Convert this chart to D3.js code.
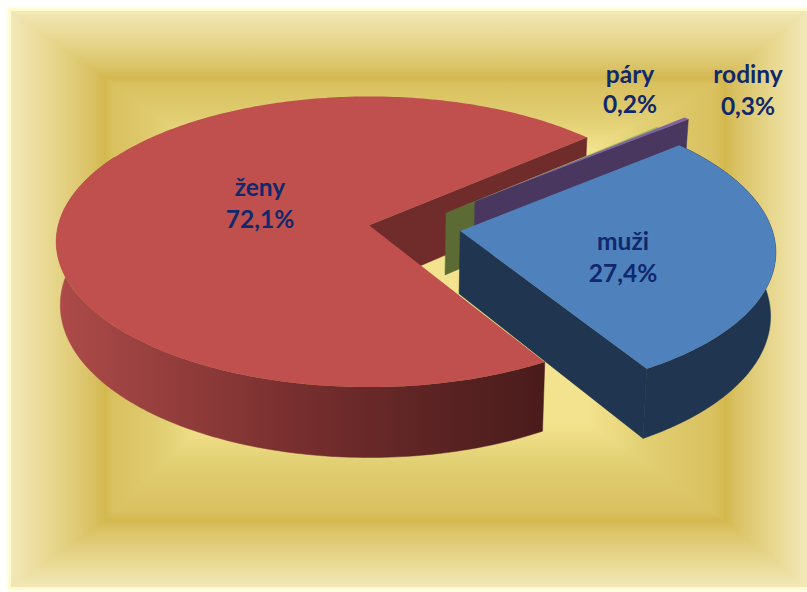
<!DOCTYPE html>
<html>
<head>
<meta charset="utf-8">
<title>pie</title>
<script src="https://cdnjs.cloudflare.com/ajax/libs/d3/7.8.5/d3.min.js"></script>
<style>
  html, body { margin: 0; padding: 0; background: #fff; }
  svg { display: block; }
  text { font-family: Lato, sans-serif; font-weight: 700; font-size: 24.5px; fill: #10286c; text-anchor: middle; }
</style>
</head>
<body>
<div id="chart"></div>
<script>
// data
const categories = ["ženy", "páry", "rodiny", "muži"];
const shares = [72.1, 0.2, 0.3, 27.4];

const topColors = ["#c0504d", "#9bbb59", "#8064a2", "#4f81bd"];
const wallColors = ["#6f2c2a", "#5b6b33", "#4a3760", "#1f3550"];

// how far each slice was pulled out of the pie, in pie radii
const explode = [[-0.003, -0.005], [0.247, -0.091], [0.3445, -0.178], [0.289, 0.034]];
const labelPos = [[260, 196, 228], [630, 83, 113], [748, 83, 115], [623, 250, 282]];

const width = 807, height = 592;
const center = {x: 370, y: 226};
const radiusX = 311, radiusY = 143.6, persp = 0.1134;
const depth = 62.5, bottomScale = 0.987;
const firstAngle = 149.3 * Math.PI / 180;

const svg = d3.select("#chart").append("svg")
  .attr("width", width)
  .attr("height", height);
const defs = svg.append("defs");

const format = d3.formatLocale({decimal: ",", thousands: " ", grouping: [3], currency: ["", ""]}).format(".1f");

// ---- background, a rectangular gradient built from trapezoids ----
const outer = {x0: 11, y0: 11, x1: 807, y1: 587};
const inner = {x0: 105, y0: 78, x1: 725, y1: 520};
const plateau = {x0: 205, y0: 150, x1: 587, y1: 423};
const outerStops = [[0, "#f2e8b8"], [0.3, "#ebdc9a"], [0.6, "#e2cf7e"], [0.85, "#dac265"], [1, "#d4b84e"]];
const innerStops = [[0, "#d4b84e"], [0.08, "#dac160"], [0.3, "#dcc667"], [0.6, "#e2d074"], [1, "#f4e38e"]];

defs.append("filter").attr("id", "glow")
  .append("feGaussianBlur").attr("stdDeviation", 1.5);
svg.append("rect")
  .attr("x", outer.x0 - 1).attr("y", outer.y0 - 1)
  .attr("width", outer.x1 - outer.x0 + 2).attr("height", outer.y1 - outer.y0 + 2)
  .attr("fill", "none").attr("stroke", "#fffbc0").attr("stroke-width", 4)
  .attr("filter", "url(#glow)");

function gradientBand(id, a, b, stops) {
  const g = defs.append("linearGradient").attr("id", id)
    .attr("gradientUnits", "userSpaceOnUse")
    .attr("x1", a[0]).attr("y1", a[1]).attr("x2", b[0]).attr("y2", b[1]);
  stops.forEach(s => g.append("stop").attr("offset", s[0]).attr("stop-color", s[1]));
  return "url(#" + id + ")";
}

function ring(name, o, i, stops) {
  const sides = [
    [[o.x0, o.y0], [o.x1, o.y0], [i.x1, i.y0], [i.x0, i.y0], [0, o.y0], [0, i.y0]],
    [[o.x0, o.y1], [o.x1, o.y1], [i.x1, i.y1], [i.x0, i.y1], [0, o.y1], [0, i.y1]],
    [[o.x0, o.y0], [o.x0, o.y1], [i.x0, i.y1], [i.x0, i.y0], [o.x0, 0], [i.x0, 0]],
    [[o.x1, o.y0], [o.x1, o.y1], [i.x1, i.y1], [i.x1, i.y0], [o.x1, 0], [i.x1, 0]]
  ];
  sides.forEach((s, n) => {
    svg.append("polygon")
      .attr("points", s.slice(0, 4).join(" "))
      .attr("shape-rendering", "crispEdges")
      .attr("fill", gradientBand(name + n, s[4], s[5], stops));
  });
}
ring("outerBand", outer, inner, outerStops);
ring("innerBand", inner, plateau, innerStops);
svg.append("rect")
  .attr("x", plateau.x0).attr("y", plateau.y0)
  .attr("width", plateau.x1 - plateau.x0).attr("height", plateau.y1 - plateau.y0)
  .attr("fill", "#f4e38e");

// ---- pie ----
const pie = d3.pie().sort(null)
  .startAngle(firstAngle)
  .endAngle(firstAngle + 2 * Math.PI);
const slices = pie(shares).map((d, i) => ({
  start: d.startAngle, end: d.endAngle, i: i,
  off: explode[i]
}));

// angle on the pie to a point on screen, with a little perspective
function topPoint(ang, r, off) {
  const X = r * Math.sin(ang) + off[0];
  const Y = -r * Math.cos(ang) + off[1];
  const w = 1 - persp * Y;
  return {x: center.x + radiusX * X / w, y: center.y + radiusY * Y / w, w: w};
}
function lowPoint(p) {
  return {x: center.x + (p.x - center.x) * bottomScale, y: p.y + depth / p.w};
}
const line = d3.line().x(d => d.x).y(d => d.y);

function arcPoints(a0, a1, off) {
  const n = Math.max(2, Math.ceil(Math.abs(a1 - a0) * 180 / Math.PI));
  return d3.range(n + 1).map(k => topPoint(a0 + (a1 - a0) * k / n, 1, off));
}

function cutWall(ang, off, fill) {
  const a = topPoint(0, 0, off), b = topPoint(ang, 1, off);
  svg.append("path")
    .attr("d", line([a, b, lowPoint(b), lowPoint(a)]) + "Z")
    .attr("fill", fill)
    .attr("stroke", fill)
    .attr("stroke-width", 0.5);
}
function roundSide(a0, a1, off, fill) {
  const top = arcPoints(a0, a1, off);
  svg.append("path")
    .attr("d", line(top.concat(top.map(lowPoint).reverse())) + "Z")
    .attr("fill", fill)
    .attr("stroke", fill)
    .attr("stroke-width", 0.5);
}
function topFace(s) {
  svg.append("path")
    .attr("d", line([topPoint(0, 0, s.off)].concat(arcPoints(s.start, s.end, s.off))) + "Z")
    .attr("fill", topColors[s.i]);
}

const red = slices[0], green = slices[1], purple = slices[2], blue = slices[3];

const redSide = gradientBand("redSide", [57, 0], [543, 0],
  [[0, "#ad4b49"], [0.28, "#8f3b3a"], [0.5, "#772e2e"], [0.75, "#5e2424"], [1, "#4a1b1b"]]);

// back to front
cutWall(red.end, red.off, wallColors[0]);
cutWall(green.end, green.off, wallColors[1]);
cutWall(purple.end, purple.off, wallColors[2]);
roundSide(red.start, 300 * Math.PI / 180, red.off, redSide);
topFace(red);
topFace(green);
topFace(purple);
roundSide(blue.start, blue.end, blue.off, wallColors[3]);
cutWall(blue.end, blue.off, wallColors[3]);
topFace(blue);

// ---- labels ----
const labels = svg.append("g").selectAll("g")
  .data(categories)
  .enter().append("g");
labels.append("text")
  .attr("x", (d, i) => labelPos[i][0])
  .attr("y", (d, i) => labelPos[i][1])
  .text(d => d);
labels.append("text")
  .attr("x", (d, i) => labelPos[i][0])
  .attr("y", (d, i) => labelPos[i][2])
  .text((d, i) => format(shares[i]) + "%");
</script>
</body>
</html>
